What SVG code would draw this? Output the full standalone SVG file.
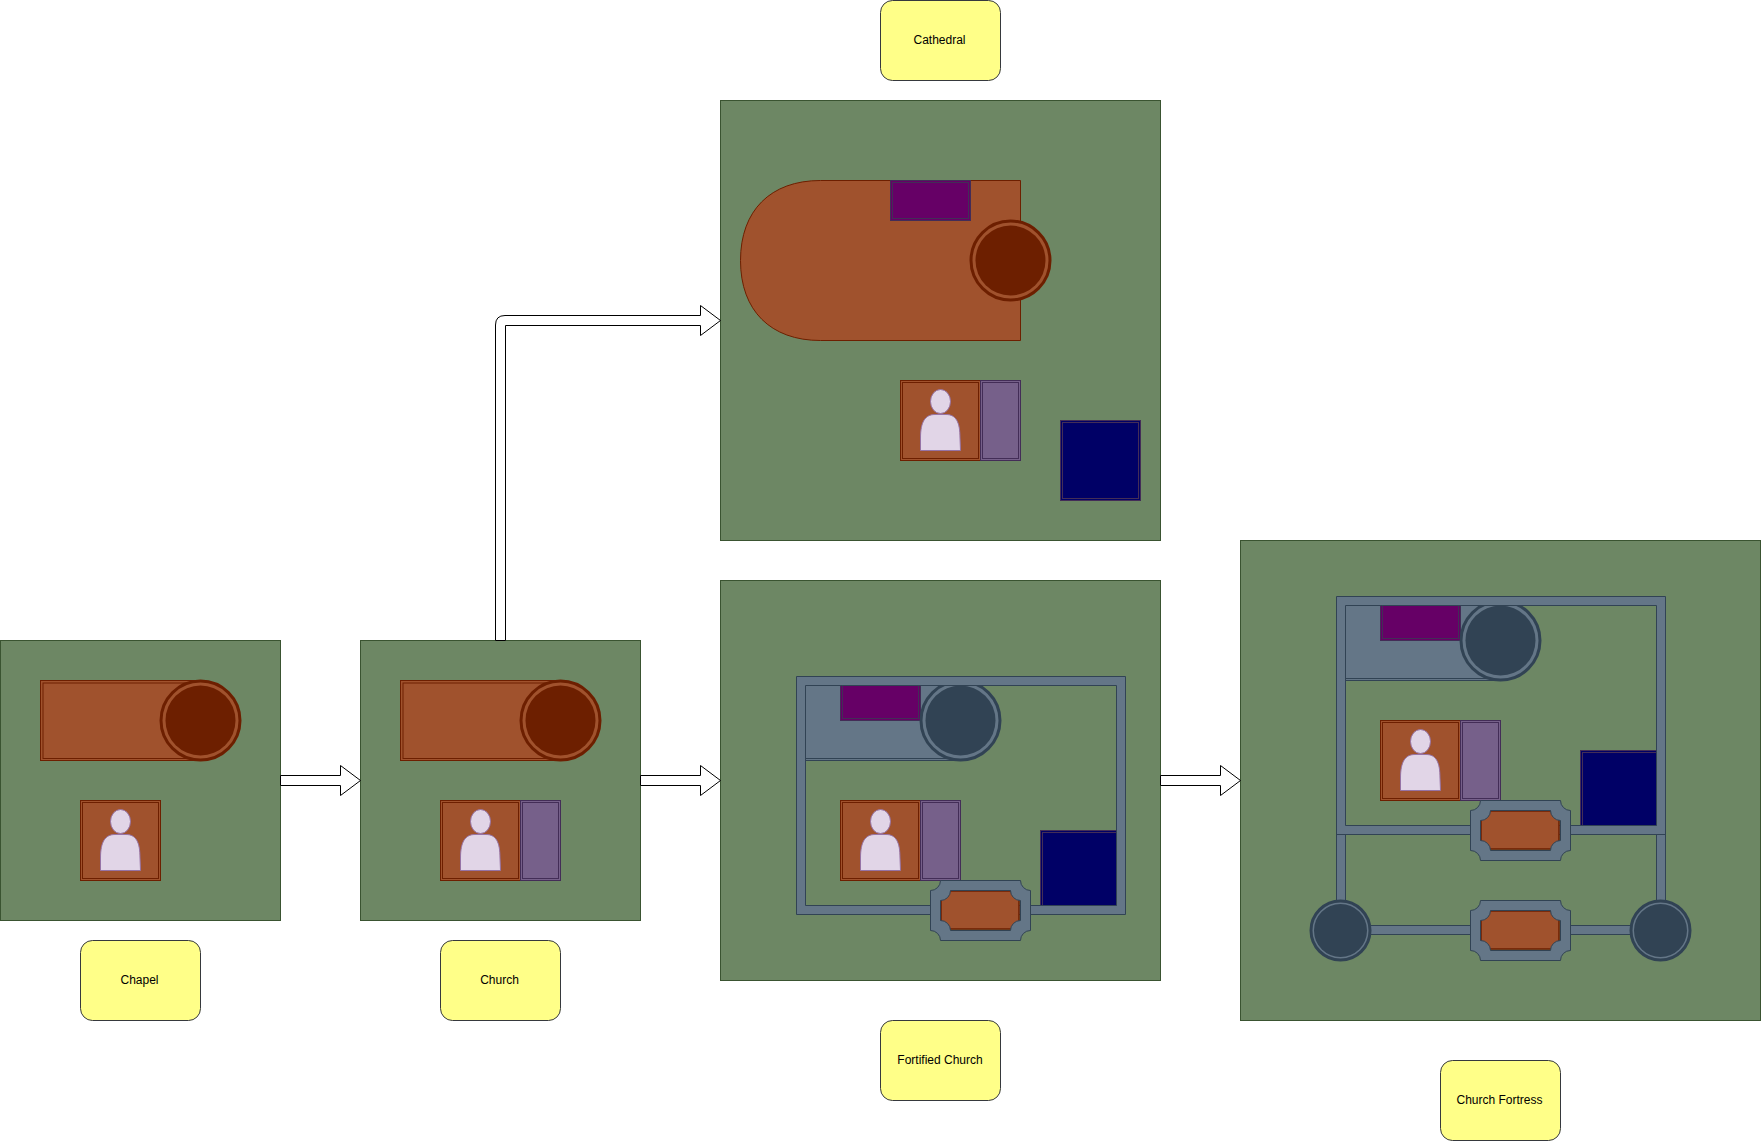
<svg xmlns="http://www.w3.org/2000/svg" xmlns:xlink="http://www.w3.org/1999/xlink" width="1761" height="1142" viewBox="0 0 1761 1142">
<style>
.panel{fill:#6d8764;stroke:#3a5431}
.label{fill:#ffff88;stroke:#36393d}
.txt{font-family:"Liberation Sans",Arial,sans-serif;font-size:12px;fill:#000;text-anchor:middle}
.brown{fill:#a0522d;stroke:#6d1f00}
.line-b{fill:none;stroke:#6d1f00}
.gray{fill:#647687;stroke:#314354}
.line-g{fill:none;stroke:#314354}
.mauve{fill:#76608a;stroke:#432d57}
.plum{fill:#660066;stroke:#432d57}
.navy{fill:#000066;stroke:#432d57}
.line-p{fill:none;stroke:#432d57}
.person{fill:#e1d5e7;stroke:#9673a6}
.arrow{fill:#fff;stroke:#000}
</style>
<defs>
<g id="chancel">
<rect class="brown" x="0.5" y="0.5" width="80" height="80"/>
<rect class="line-b" x="2.5" y="2.5" width="76" height="76"/>
<ellipse class="person" cx="40.5" cy="21.5" rx="10" ry="12"/>
<path class="person" d="M20.5 70.5 L20.5 58 C20.5 42 25 34.5 35 34.5 L46 34.5 C56 34.5 60 42 60 58 L60.5 70.5 Z"/>
</g>
<g id="sideroom">
<rect class="mauve" x="0.5" y="0.5" width="40" height="80"/>
<rect class="line-p" x="2.5" y="2.5" width="36" height="76"/>
</g>
<g id="sacristy">
<rect class="plum" x="0.5" y="0.5" width="80" height="40"/>
<rect class="line-p" x="2.5" y="2.5" width="76" height="36"/>
</g>
<g id="treasury">
<rect class="navy" x="0.5" y="0.5" width="80" height="80"/>
<rect class="line-p" x="2.5" y="2.5" width="76" height="76"/>
</g>
<g id="apse-brown">
<circle cx="0.5" cy="0.5" r="39.5" fill="#a0522d" stroke="#6d1f00" stroke-width="3"/>
<circle cx="0.5" cy="0.5" r="35" fill="#6d1f00"/>
</g>
<g id="apse-gray">
<circle cx="0.5" cy="0.5" r="39.5" fill="#647687" stroke="#314354" stroke-width="3"/>
<circle cx="0.5" cy="0.5" r="35" fill="#314354"/>
</g>
<g id="tower">
<circle cx="0.5" cy="0.5" r="29.5" fill="#647687" stroke="#314354" stroke-width="3"/>
<circle cx="0.5" cy="0.5" r="26.5" fill="#314354"/>
</g>
<g id="gate">
<rect x="11" y="11" width="78" height="38" class="brown" stroke-width="1.5"/>
<path class="gray" fill-rule="evenodd" d="M10.5 0.5 H90.5 A10 10 0 0 0 100.5 10.5 V50.5 A10 10 0 0 0 90.5 60.5 H10.5 A10 10 0 0 0 0.5 50.5 V10.5 A10 10 0 0 0 10.5 0.5 Z M20.5 10.5 A10 10 0 0 1 10.5 20.5 V40.5 A10 10 0 0 1 20.5 50.5 H80.5 A10 10 0 0 1 90.5 40.5 V20.5 A10 10 0 0 1 80.5 10.5 Z"/>
</g>
<g id="fort-core">
<rect class="gray" x="800.5" y="680.5" width="160" height="80"/>
<rect class="line-g" x="803" y="683" width="150" height="75.5"/>
<use xlink:href="#sacristy" href="#sacristy" x="840" y="680"/>
<use xlink:href="#apse-gray" href="#apse-gray" x="960" y="720"/>
<use xlink:href="#chancel" href="#chancel" x="840" y="800"/>
<use xlink:href="#sideroom" href="#sideroom" x="920" y="800"/>
<use xlink:href="#treasury" href="#treasury" x="1040" y="830"/>
<path class="gray" fill-rule="evenodd" d="M796.5 676.5 H1125.5 V914.5 H796.5 Z M805.5 685.5 V905.5 H1116.5 V685.5 Z"/>
<use xlink:href="#gate" href="#gate" x="930" y="880"/>
</g>
</defs>

<g id="node-chapel">
<rect class="panel" x="0.5" y="640.5" width="280" height="280"/>
<rect class="brown" x="40.5" y="680.5" width="160" height="80"/>
<rect class="line-b" x="43" y="683" width="150" height="75.5"/>
<use xlink:href="#apse-brown" href="#apse-brown" x="200" y="720"/>
<use xlink:href="#chancel" href="#chancel" x="80" y="800"/>
</g>
<g id="label-chapel">
<rect class="label" x="80.5" y="940.5" width="120" height="80" rx="12" ry="12"/>
<text class="txt" x="139.5" y="984">Chapel</text>
</g>

<g id="node-church">
<rect class="panel" x="360.5" y="640.5" width="280" height="280"/>
<rect class="brown" x="400.5" y="680.5" width="160" height="80"/>
<rect class="line-b" x="403" y="683" width="150" height="75.5"/>
<use xlink:href="#apse-brown" href="#apse-brown" x="560" y="720"/>
<use xlink:href="#chancel" href="#chancel" x="440" y="800"/>
<use xlink:href="#sideroom" href="#sideroom" x="520" y="800"/>
</g>
<g id="label-church">
<rect class="label" x="440.5" y="940.5" width="120" height="80" rx="12" ry="12"/>
<text class="txt" x="499.5" y="984">Church</text>
</g>

<g id="node-cathedral">
<rect class="panel" x="720.5" y="100.5" width="440" height="440"/>
<path class="brown" d="M820.5 180.5 H1020.5 V340.5 H820.5 C770.5 340.5 740.5 310.5 740.5 260.5 C740.5 210.5 770.5 180.5 820.5 180.5 Z"/>
<use xlink:href="#sacristy" href="#sacristy" x="890" y="180"/>
<use xlink:href="#apse-brown" href="#apse-brown" x="1010" y="260"/>
<use xlink:href="#chancel" href="#chancel" x="900" y="380"/>
<use xlink:href="#sideroom" href="#sideroom" x="980" y="380"/>
<use xlink:href="#treasury" href="#treasury" x="1060" y="420"/>
</g>
<g id="label-cathedral">
<rect class="label" x="880.5" y="0.5" width="120" height="80" rx="12" ry="12"/>
<text class="txt" x="939.5" y="44">Cathedral</text>
</g>

<g id="node-fortified-church">
<rect class="panel" x="720.5" y="580.5" width="440" height="400"/>
<use xlink:href="#fort-core" href="#fort-core"/>
</g>
<g id="label-fortified-church">
<rect class="label" x="880.5" y="1020.5" width="120" height="80" rx="12" ry="12"/>
<text class="txt" x="940" y="1064">Fortified Church</text>
</g>

<g id="node-church-fortress">
<rect class="panel" x="1240.5" y="540.5" width="520" height="480"/>
<use xlink:href="#fort-core" href="#fort-core" x="540" y="-80"/>
<rect class="gray" x="1336.5" y="834.5" width="9" height="72"/>
<rect class="gray" x="1656.5" y="834.5" width="9" height="72"/>
<rect class="gray" x="1365" y="925.5" width="110" height="9"/>
<rect class="gray" x="1565" y="925.5" width="70" height="9"/>
<use xlink:href="#tower" href="#tower" x="1340" y="930"/>
<use xlink:href="#tower" href="#tower" x="1660" y="930"/>
<use xlink:href="#gate" href="#gate" x="1470" y="900"/>
</g>
<g id="label-church-fortress">
<rect class="label" x="1440.5" y="1060.5" width="120" height="80" rx="12" ry="12"/>
<text class="txt" x="1499.5" y="1104">Church Fortress</text>
</g>

<g id="connectors">
<path class="arrow" d="M280.5 775.5 H340.5 V765.5 L360.5 780.5 L340.5 795.5 V785.5 H280.5 Z"/>
<path class="arrow" d="M640.5 775.5 H700.5 V765.5 L720.5 780.5 L700.5 795.5 V785.5 H640.5 Z"/>
<path class="arrow" d="M1160.5 775.5 H1220.5 V765.5 L1240.5 780.5 L1220.5 795.5 V785.5 H1160.5 Z"/>
<path class="arrow" d="M495.5 640.5 V325 Q495.5 315.5 505 315.5 H700.5 V305.5 L720.5 320.5 L700.5 335.5 V325.5 H505.5 V640.5 Z"/>
</g>
</svg>
